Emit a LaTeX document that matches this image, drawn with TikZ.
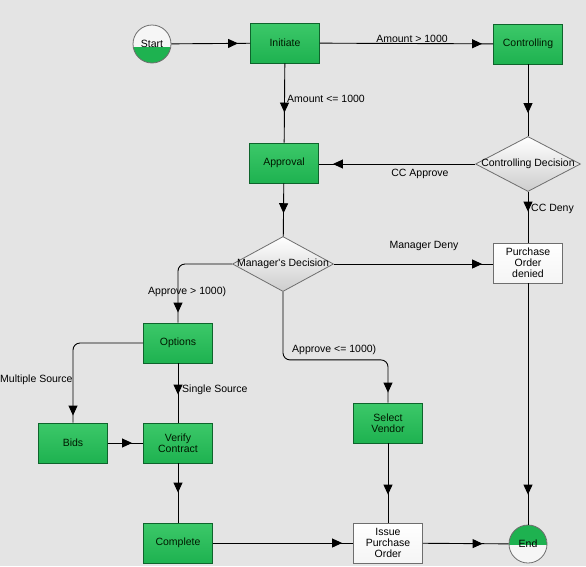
\documentclass[tikz,border=0pt]{standalone}
\usepackage{fontspec}
\setmainfont{Liberation Sans}
\usetikzlibrary{arrows.meta,shapes.geometric,decorations.markings,calc}
\definecolor{bg}{RGB}{228,228,228}
\definecolor{gfill}{RGB}{30,178,80}
\definecolor{gtop}{RGB}{60,200,105}
\definecolor{gdark}{RGB}{14,100,44}
\definecolor{wedge}{RGB}{110,110,110}
\definecolor{wshade}{RGB}{205,205,205}
\tikzset{
  every node/.style={font=\fontsize{10.5}{11}\selectfont},
  gbox/.style={rectangle, top color=gtop, bottom color=gfill, draw=gdark, line width=0.9pt,
    minimum width=69pt, minimum height=40pt, inner sep=0pt, align=center, text=black!90!green},
  wbox/.style={rectangle, top color=white, bottom color=white!92!gray, draw=wedge, line width=0.8pt,
    minimum width=69pt, minimum height=40pt, inner sep=0pt, align=center},
  dmd/.style={diamond, top color=white, bottom color=wshade, draw=wedge, line width=0.8pt,
    minimum width=#1, minimum height=55pt, inner sep=0pt},
  startc/.style={circle, minimum size=38pt, inner sep=0pt, draw=wedge, line width=0.8pt,
    fill=white!93!gray,
    path picture={\fill[gfill] ([yshift=-3pt]path picture bounding box.west) rectangle (path picture bounding box.south east);}},
  endc/.style={circle, minimum size=38pt, inner sep=0pt, draw=wedge, line width=0.8pt,
    fill=white!93!gray,
    path picture={\fill[gfill] (path picture bounding box.north west) rectangle ([yshift=-1pt]path picture bounding box.east);}},
  conn/.style={draw=black, line width=0.9pt},
  tipat/.style={postaction={decorate}, decoration={markings,
    mark=at position -#1 with {\arrow{Triangle[length=10pt,width=9pt]}}}},
  lbl/.style={inner sep=0pt, anchor=west},
  lblc/.style={inner sep=0pt}
}
\begin{document}
\begin{tikzpicture}[x=1pt,y=-1pt]
\useasboundingbox (0,0) rectangle (586,566);
\fill[bg] (0,0) rectangle (586,566);

% nodes
\node[startc] (start) at (152,44) {Start};
\node[gbox] (init) at (285,43) {Initiate};
\node[gbox] (ctrl) at (528,44) {Controlling};
\node[gbox] (appr) at (284,163) {Approval};
\node[dmd=105pt, label={[lblc]center:Controlling Decision}] (cd) at (528,164) {};
\node[dmd=101pt, label={[lblc]center:Manager\textquotesingle s Decision}] (md) at (283,264) {};
\node[wbox] (pod) at (528,263) {Purchase\\Order\\denied};
\node[gbox] (opt) at (178,343) {Options};
\node[gbox] (sv) at (388,423) {Select\\Vendor};
\node[gbox] (bids) at (73,443) {Bids};
\node[gbox] (ver) at (178,443) {Verify\\Contract};
\node[gbox] (comp) at (178,543) {Complete};
\node[wbox] (iss) at (388,543) {Issue\\Purchase\\Order};
\node[endc] (end) at (528,544) {End};

% connectors
\draw[conn, tipat=12pt] (start) -- (init);
\draw[conn, tipat=11pt] (init) -- (ctrl);
\node[lblc] (l1) at (412,39) {Amount > 1000};
\draw[conn, tipat=30pt] (init) -- (appr);
\node[lbl] (l2) at (287,99) {Amount <= 1000};
\draw[conn, tipat=23pt] (ctrl) -- (cd);
\draw[conn, tipat=14pt] (cd.west) -- (cd.west -| appr.east);
\node[lblc] (l3) at (420,174) {CC Approve};
\draw[conn, tipat=31pt] (cd) -- (pod);
\node[lbl] (l4) at (531,209) {CC Deny};
\draw[conn, tipat=23pt] (appr) -- (md);
\draw[conn, tipat=11pt] (md.east) -- (md.east -| pod.west);
\node[lblc] (l5) at (424,246) {Manager Deny};
\draw[conn, tipat=10pt, rounded corners=7pt] (md.west) -| (opt.north);
\node[lbl] (l6) at (148,292) {Approve > 1000)};
\draw[conn, tipat=10pt, rounded corners=7pt] (md.south) -- ++(0,68) -| (sv.north);
\node[lbl] (l7) at (292,350) {Approve <= 1000)};
\draw[conn, tipat=7pt, rounded corners=7pt] (opt.west) -| (bids.north);
\node[lbl] (l8) at (0,380) {Multiple Source};
\draw[conn, tipat=28pt] (opt) -- (ver);
\node[lbl] (l9) at (182,390) {Single Source};
\draw[conn, tipat=11pt] (bids) -- (ver);
\draw[conn, tipat=30pt] (ver) -- (comp);
\draw[conn, tipat=11pt] (comp) -- (iss);
\draw[conn, tipat=28pt] (sv) -- (iss);
\draw[conn, tipat=26pt] (iss) -- (end);
\draw[conn, tipat=30pt] (pod) -- (end);
\end{tikzpicture}
\end{document}
